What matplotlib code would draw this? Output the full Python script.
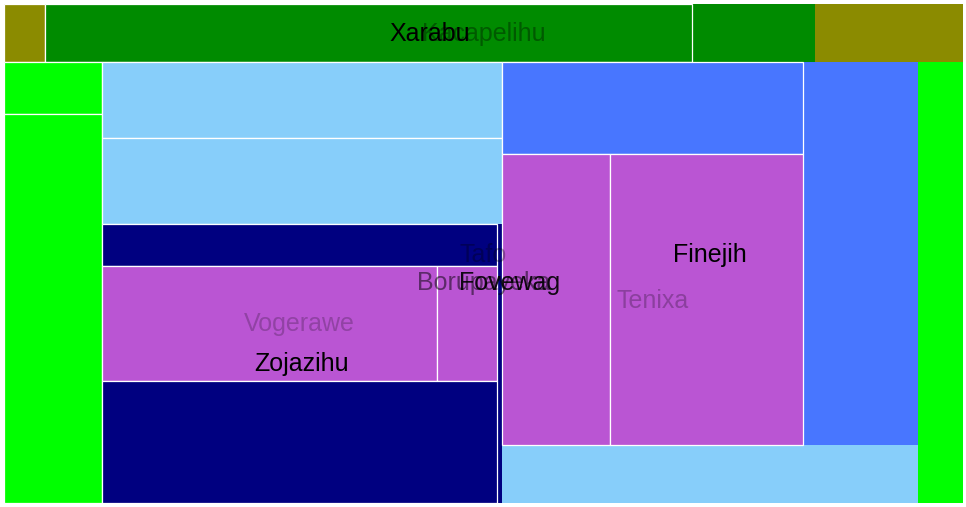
import matplotlib.pyplot as plt
from matplotlib.patches import Rectangle

# treemap nodes: id, parent, label, own value (leaf size or unused remainder), row group inside parent
node_ids = ["root", "A", "a1", "G", "g1", "B", "l1", "l2", "M", "lb1", "lb2", "Z",
            "nv1", "V", "p1", "p2", "nv2", "F", "b1", "T", "t1", "t2"]
parents = [None, "root", "A", "A", "G", "root", "B", "B", "B", "M", "M", "M",
           "Z", "Z", "V", "V", "Z", "M", "F", "F", "T", "T"]
labels = ["Tafo", "Kacapelihu", "", "Xarabu", "", "Borupayeka", "", "", "Fovewag", "", "", "Zojazihu",
          "", "Vogerawe", "", "", "", "Finejih", "", "Tenixa", "", ""]
own_values = [0, 86, 24, 71, 375, 198, 51, 381, 241, 304, 344, 14,
              166, 0, 385, 69, 482, 440, 277, 0, 314, 562]
row_groups = [0, 0, 0, 1, 0, 0, 0, 0, 1, 0, 0, 0,
              0, 0, 0, 1, 0, 1, 0, 0, 0, 1]

colors = {"root": "#ffffff", "A": "#8b8b00", "a1": "#8b8b00", "G": "#008b00", "g1": "#008b00",
          "B": "#00ff00", "l1": "#00ff00", "l2": "#00ff00", "M": "#87cefa", "lb1": "#87cefa",
          "lb2": "#87cefa", "Z": "#000080", "nv1": "#000080", "V": "#ba55d3", "p1": "#ba55d3",
          "p2": "#ba55d3", "nv2": "#000080", "F": "#4876ff", "b1": "#4876ff", "T": "#ba55d3",
          "t1": "#ba55d3", "t2": "#ba55d3"}
label_alpha = {"Tafo": 0.3, "Kacapelihu": 0.35, "Borupayeka": 0.5, "Xarabu": 1.0, "Fovewag": 0.9,
               "Zojazihu": 1.0, "Vogerawe": 0.22, "Finejih": 1.0, "Tenixa": 0.25}

W, H = 959, 499

idx = {n: i for i, n in enumerate(node_ids)}
children = {}
for n, p in zip(node_ids, parents):
    children.setdefault(p, []).append(n)


def total(n):
    return own_values[idx[n]] + sum(total(c) for c in children.get(n, []))


boxes = {}


def layout(n, x0, y0, x1, y1):
    boxes[n] = (x0, y0, x1, y1)
    kids = children.get(n, [])
    remaining = total(n)
    groups = {}
    for c in kids:
        groups.setdefault(row_groups[idx[c]], []).append(c)
    for r in sorted(groups):
        row = groups[r]
        s = sum(total(c) for c in row)
        dx, dy = x1 - x0, y1 - y0
        if dx < dy:
            yb = y0 + dy * s / remaining
            xa = x0
            for c in row:
                xb = xa + dx * total(c) / s
                layout(c, xa, y0, xb, yb)
                xa = xb
            y0 = yb
        else:
            xb = x0 + dx * s / remaining
            ya = y0
            for c in row:
                yb = ya + dy * total(c) / s
                layout(c, x0, ya, xb, yb)
                ya = yb
            x0 = xb
        remaining -= s


layout("root", 0, 0, W, H)

fig = plt.figure(figsize=(9.66, 5.07), dpi=100)
ax = fig.add_axes([4 / 966, 4 / 507, 959 / 966, 499 / 507])
ax.set_xlim(0, W)
ax.set_ylim(H, 0)
ax.axis("off")

for n in node_ids:
    x0, y0, x1, y1 = boxes[n]
    leaf = n not in children
    ax.add_patch(Rectangle((x0, y0), x1 - x0, y1 - y0, facecolor=colors[n],
                           edgecolor="white" if leaf else "none", linewidth=0.9 if leaf else 0))

for n, lab in zip(node_ids, labels):
    if not lab:
        continue
    x0, y0, x1, y1 = boxes[n]
    ax.text((x0 + x1) / 2, (y0 + y1) / 2 + 1, lab, ha="center", va="center", fontsize=18,
            family=["Liberation Sans", "DejaVu Sans"], color="black", alpha=label_alpha[lab])

fig.savefig("out.png", dpi=100)
